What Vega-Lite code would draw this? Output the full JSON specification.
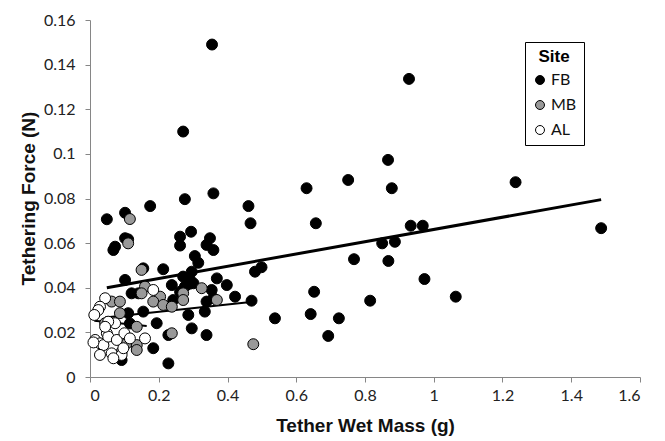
{
  "$schema": "https://vega.github.io/schema/vega-lite/v6.json",
  "width": 550,
  "height": 357,
  "autosize": "none",
  "padding": {"left": 90, "top": 20, "right": 25, "bottom": 64},
  "background": "white",
  "config": {
    "view": {"stroke": null},
    "font": "Lato",
    "axis": {
      "grid": false,
      "domainColor": "#868686",
      "tickColor": "#868686",
      "tickSize": 5,
      "labelFont": "Lato",
      "labelFontSize": 16,
      "labelColor": "#222222",
      "titleFont": "Liberation Sans",
      "titleFontSize": 19,
      "titleFontWeight": "bold",
      "titleColor": "#111111"
    },
    "legend": {
      "labelFont": "Lato",
      "titleFont": "Liberation Sans"
    }
  },
  "datasets": {
    "pts": [
      {"Site": "FB", "mass": 0.355, "force": 0.149},
      {"Site": "FB", "mass": 0.928, "force": 0.1336},
      {"Site": "FB", "mass": 0.271, "force": 0.110},
      {"Site": "FB", "mass": 0.867, "force": 0.0973},
      {"Site": "FB", "mass": 1.238, "force": 0.0873},
      {"Site": "FB", "mass": 0.751, "force": 0.0883},
      {"Site": "FB", "mass": 0.630, "force": 0.0846},
      {"Site": "FB", "mass": 0.878, "force": 0.0846},
      {"Site": "FB", "mass": 0.276, "force": 0.0797},
      {"Site": "FB", "mass": 0.359, "force": 0.0823},
      {"Site": "FB", "mass": 0.175, "force": 0.0766},
      {"Site": "FB", "mass": 0.461, "force": 0.0766},
      {"Site": "FB", "mass": 0.049, "force": 0.0707},
      {"Site": "FB", "mass": 0.102, "force": 0.0736},
      {"Site": "FB", "mass": 0.467, "force": 0.0689},
      {"Site": "FB", "mass": 0.657, "force": 0.0689},
      {"Site": "FB", "mass": 0.933, "force": 0.0678},
      {"Site": "FB", "mass": 0.968, "force": 0.0678},
      {"Site": "FB", "mass": 1.487, "force": 0.0667},
      {"Site": "FB", "mass": 0.068, "force": 0.0569},
      {"Site": "FB", "mass": 0.073, "force": 0.0584},
      {"Site": "FB", "mass": 0.102, "force": 0.0622},
      {"Site": "FB", "mass": 0.111, "force": 0.0617},
      {"Site": "FB", "mass": 0.262, "force": 0.0629},
      {"Site": "FB", "mass": 0.262, "force": 0.0589},
      {"Site": "FB", "mass": 0.294, "force": 0.0651},
      {"Site": "FB", "mass": 0.349, "force": 0.0622},
      {"Site": "FB", "mass": 0.339, "force": 0.0592},
      {"Site": "FB", "mass": 0.359, "force": 0.0569},
      {"Site": "FB", "mass": 0.305, "force": 0.0542},
      {"Site": "FB", "mass": 0.315, "force": 0.0512},
      {"Site": "FB", "mass": 0.213, "force": 0.0483},
      {"Site": "FB", "mass": 0.102, "force": 0.0435},
      {"Site": "FB", "mass": 0.480, "force": 0.0472},
      {"Site": "FB", "mass": 0.499, "force": 0.0492},
      {"Site": "FB", "mass": 0.850, "force": 0.0599},
      {"Site": "FB", "mass": 0.887, "force": 0.0606},
      {"Site": "FB", "mass": 0.768, "force": 0.0528},
      {"Site": "FB", "mass": 0.868, "force": 0.0520},
      {"Site": "FB", "mass": 0.973, "force": 0.0439},
      {"Site": "FB", "mass": 1.064, "force": 0.0360},
      {"Site": "FB", "mass": 0.652, "force": 0.0382},
      {"Site": "FB", "mass": 0.470, "force": 0.0342},
      {"Site": "FB", "mass": 0.815, "force": 0.0342},
      {"Site": "FB", "mass": 0.538, "force": 0.0263},
      {"Site": "FB", "mass": 0.642, "force": 0.0282},
      {"Site": "FB", "mass": 0.724, "force": 0.0263},
      {"Site": "FB", "mass": 0.693, "force": 0.0184},
      {"Site": "FB", "mass": 0.155, "force": 0.0487},
      {"Site": "FB", "mass": 0.271, "force": 0.045},
      {"Site": "FB", "mass": 0.291, "force": 0.0435},
      {"Site": "FB", "mass": 0.301, "force": 0.042},
      {"Site": "FB", "mass": 0.296, "force": 0.0472},
      {"Site": "FB", "mass": 0.238, "force": 0.0412},
      {"Site": "FB", "mass": 0.369, "force": 0.0442},
      {"Site": "FB", "mass": 0.398, "force": 0.0412},
      {"Site": "FB", "mass": 0.422, "force": 0.036},
      {"Site": "FB", "mass": 0.286, "force": 0.0278},
      {"Site": "FB", "mass": 0.296, "force": 0.0218},
      {"Site": "FB", "mass": 0.339, "force": 0.0188},
      {"Site": "FB", "mass": 0.194, "force": 0.0241},
      {"Site": "FB", "mass": 0.184, "force": 0.0129},
      {"Site": "FB", "mass": 0.228, "force": 0.0061},
      {"Site": "FB", "mass": 0.228, "force": 0.0188},
      {"Site": "FB", "mass": 0.155, "force": 0.0293},
      {"Site": "FB", "mass": 0.092, "force": 0.0076},
      {"Site": "FB", "mass": 0.354, "force": 0.039},
      {"Site": "FB", "mass": 0.359, "force": 0.0353},
      {"Site": "FB", "mass": 0.339, "force": 0.0338},
      {"Site": "FB", "mass": 0.111, "force": 0.0286},
      {"Site": "FB", "mass": 0.116, "force": 0.024},
      {"Site": "FB", "mass": 0.141, "force": 0.0375},
      {"Site": "FB", "mass": 0.121, "force": 0.0375},
      {"Site": "FB", "mass": 0.334, "force": 0.0293},
      {"Site": "FB", "mass": 0.242, "force": 0.0345},
      {"Site": "FB", "mass": 0.262, "force": 0.0382},
      {"Site": "FB", "mass": 0.276, "force": 0.0405},
      {"Site": "FB", "mass": 0.290, "force": 0.0418},
      {"Site": "MB", "mass": 0.116, "force": 0.0708},
      {"Site": "MB", "mass": 0.111, "force": 0.0599},
      {"Site": "MB", "mass": 0.150, "force": 0.048},
      {"Site": "MB", "mass": 0.063, "force": 0.0338},
      {"Site": "MB", "mass": 0.087, "force": 0.0338},
      {"Site": "MB", "mass": 0.087, "force": 0.0286},
      {"Site": "MB", "mass": 0.044, "force": 0.0241},
      {"Site": "MB", "mass": 0.107, "force": 0.0151},
      {"Site": "MB", "mass": 0.092, "force": 0.0113},
      {"Site": "MB", "mass": 0.136, "force": 0.0143},
      {"Site": "MB", "mass": 0.136, "force": 0.0121},
      {"Site": "MB", "mass": 0.136, "force": 0.0225},
      {"Site": "MB", "mass": 0.204, "force": 0.036},
      {"Site": "MB", "mass": 0.184, "force": 0.0338},
      {"Site": "MB", "mass": 0.213, "force": 0.0323},
      {"Site": "MB", "mass": 0.238, "force": 0.0315},
      {"Site": "MB", "mass": 0.271, "force": 0.0375},
      {"Site": "MB", "mass": 0.271, "force": 0.0345},
      {"Site": "MB", "mass": 0.325, "force": 0.0398},
      {"Site": "MB", "mass": 0.369, "force": 0.0345},
      {"Site": "MB", "mass": 0.238, "force": 0.0196},
      {"Site": "MB", "mass": 0.475, "force": 0.0147},
      {"Site": "MB", "mass": 0.160, "force": 0.0405},
      {"Site": "MB", "mass": 0.150, "force": 0.0375},
      {"Site": "AL", "mass": 0.044, "force": 0.0353},
      {"Site": "AL", "mass": 0.029, "force": 0.0315},
      {"Site": "AL", "mass": 0.024, "force": 0.030},
      {"Site": "AL", "mass": 0.0125, "force": 0.0278},
      {"Site": "AL", "mass": 0.073, "force": 0.0241},
      {"Site": "AL", "mass": 0.053, "force": 0.0248},
      {"Site": "AL", "mass": 0.049, "force": 0.0196},
      {"Site": "AL", "mass": 0.015, "force": 0.0166},
      {"Site": "AL", "mass": 0.029, "force": 0.0151},
      {"Site": "AL", "mass": 0.039, "force": 0.0143},
      {"Site": "AL", "mass": 0.053, "force": 0.0181},
      {"Site": "AL", "mass": 0.078, "force": 0.0166},
      {"Site": "AL", "mass": 0.100, "force": 0.0196},
      {"Site": "AL", "mass": 0.063, "force": 0.0106},
      {"Site": "AL", "mass": 0.029, "force": 0.0099},
      {"Site": "AL", "mass": 0.092, "force": 0.0099},
      {"Site": "AL", "mass": 0.097, "force": 0.0129},
      {"Site": "AL", "mass": 0.160, "force": 0.0173},
      {"Site": "AL", "mass": 0.184, "force": 0.039},
      {"Site": "AL", "mass": 0.116, "force": 0.0173},
      {"Site": "AL", "mass": 0.068, "force": 0.0084},
      {"Site": "AL", "mass": 0.044, "force": 0.0225},
      {"Site": "AL", "mass": 0.010, "force": 0.0155}
    ],
    "trend": [
      {"Site": "FB", "mass": 0.049, "force": 0.0400},
      {"Site": "FB", "mass": 1.487, "force": 0.0795},
      {"Site": "MB", "mass": 0.044, "force": 0.0267},
      {"Site": "MB", "mass": 0.475, "force": 0.0337},
      {"Site": "AL", "mass": 0.0125, "force": 0.0252},
      {"Site": "AL", "mass": 0.165, "force": 0.0229}
    ]
  },
  "layer": [
    {
      "data": {"name": "trend"},
      "transform": [{"filter": "datum.Site === 'FB'"}],
      "mark": {"type": "line", "color": "black", "strokeWidth": 3},
      "encoding": {
        "x": {"field": "mass", "type": "quantitative"},
        "y": {"field": "force", "type": "quantitative"}
      }
    },
    {
      "data": {"name": "trend"},
      "transform": [{"filter": "datum.Site !== 'FB'"}],
      "mark": {"type": "line", "color": "black", "strokeWidth": 2},
      "encoding": {
        "x": {"field": "mass", "type": "quantitative"},
        "y": {"field": "force", "type": "quantitative"},
        "detail": {"field": "Site", "type": "nominal"}
      }
    },
    {
      "data": {"name": "pts"},
      "mark": {"type": "point", "shape": "circle", "filled": true, "size": 120, "stroke": "black", "strokeWidth": 1, "opacity": 1},
      "encoding": {
        "x": {
          "field": "mass", "type": "quantitative",
          "scale": {"domain": [0, 1.6], "nice": false, "zero": true},
          "axis": {"values": [0, 0.2, 0.4, 0.6, 0.8, 1, 1.2, 1.4, 1.6], "format": "~g", "labelPadding": 5, "title": "Tether Wet Mass (g)", "titleX": 275, "titleY": 48, "titleBaseline": "middle", "titleAlign": "center"}
        },
        "y": {
          "field": "force", "type": "quantitative",
          "scale": {"domain": [0, 0.16], "nice": false},
          "axis": {"values": [0, 0.02, 0.04, 0.06, 0.08, 0.1, 0.12, 0.14, 0.16], "format": "~g", "labelPadding": 10, "title": "Tethering Force (N)", "titleX": -62, "titleY": 178, "titleAngle": -90, "titleBaseline": "middle", "titleAlign": "center"}
        },
        "fill": {
          "field": "Site", "type": "nominal",
          "scale": {"domain": ["FB", "MB", "AL"], "range": ["#000000", "#999999", "#ffffff"]},
          "legend": {
            "title": "Site",
            "orient": "none",
            "legendX": 435,
            "legendY": 22,
            "strokeColor": "black",
            "padding": 7,
            "titleFontSize": 17,
            "titleFontWeight": "bold",
            "titleColor": "black",
            "titleAnchor": "middle",
            "titlePadding": 6,
            "labelFontSize": 16,
            "labelColor": "#111111",
            "symbolType": "circle",
            "symbolSize": 80,
            "symbolStrokeColor": "black",
            "symbolStrokeWidth": 1,
            "rowPadding": 9,
            "labelOffset": 3
          }
        }
      }
    }
  ]
}
